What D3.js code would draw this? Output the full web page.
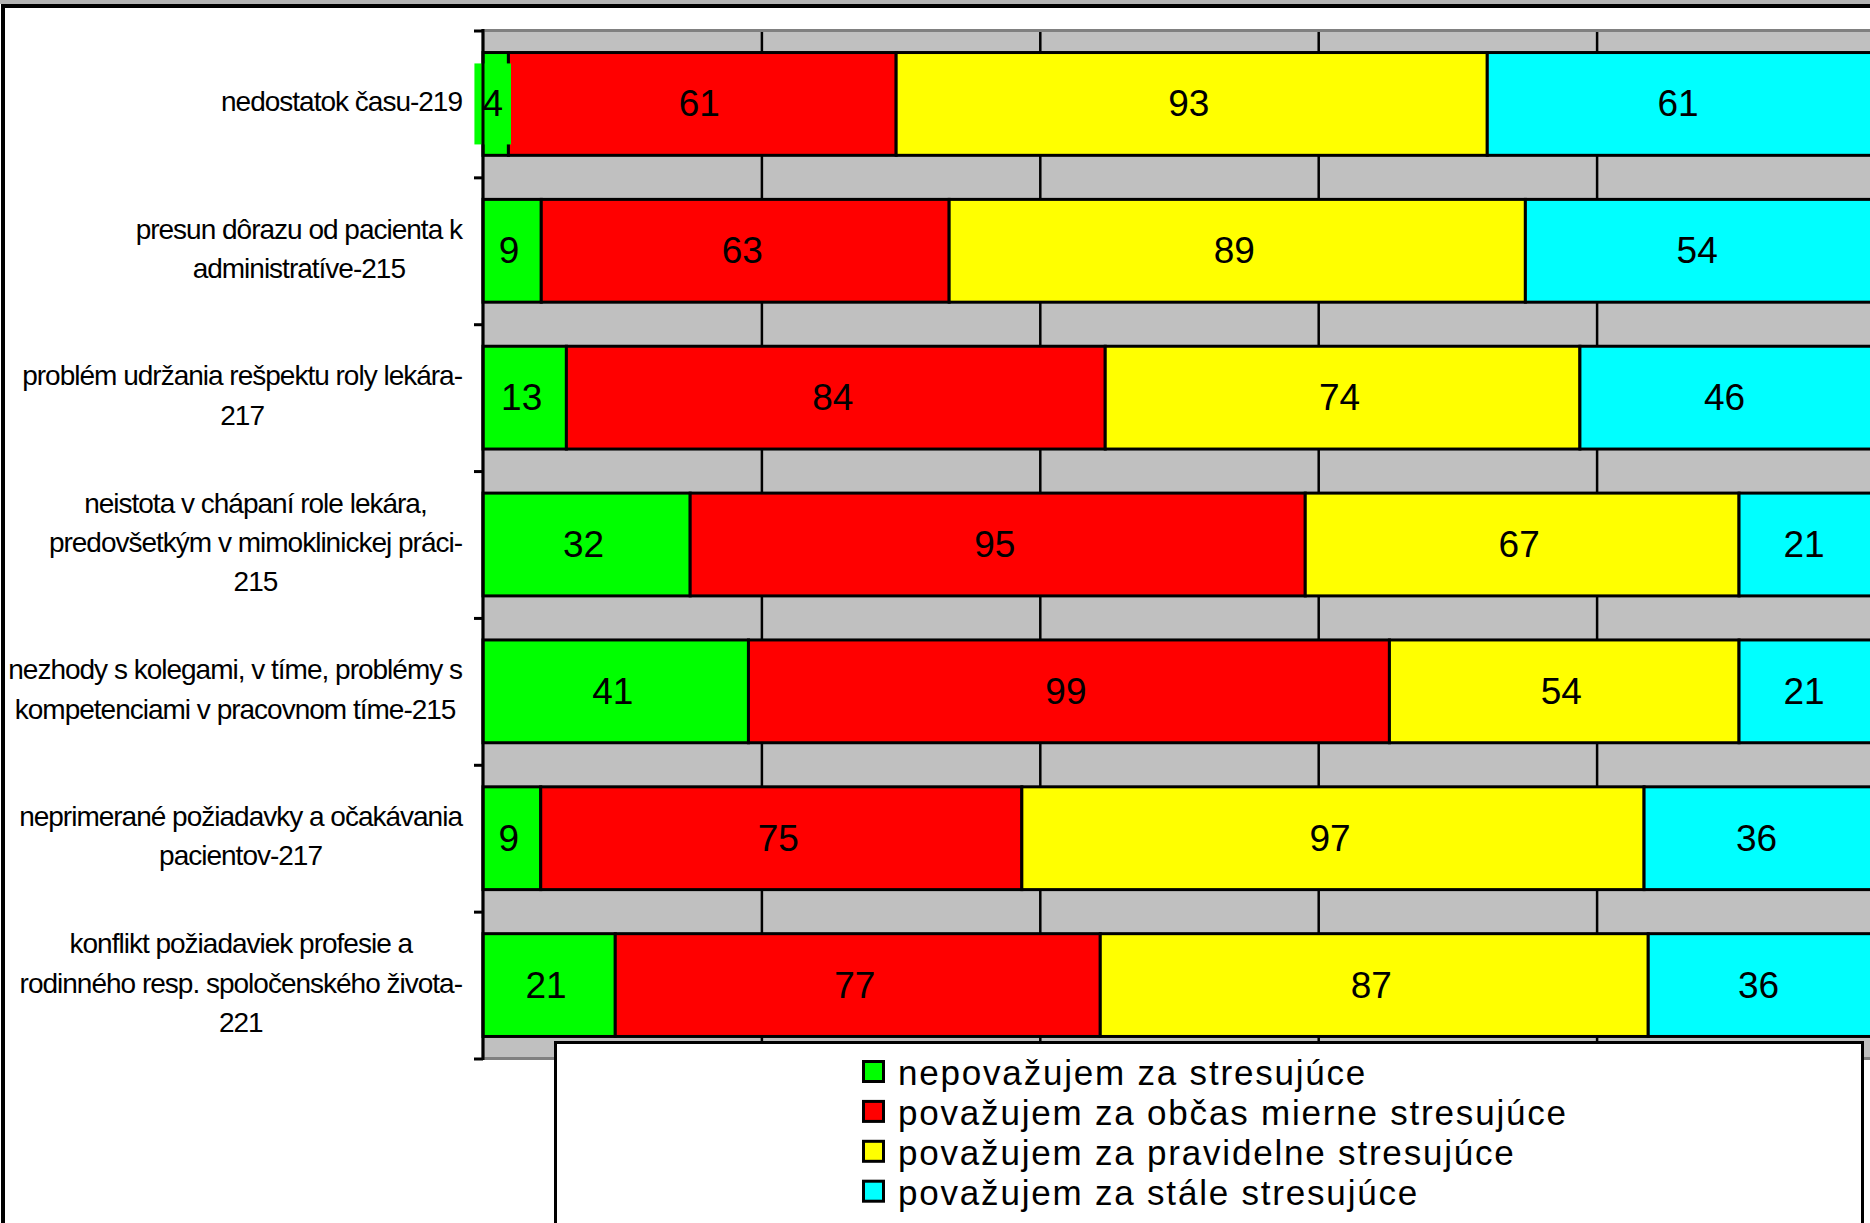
<!DOCTYPE html>
<html>
<head>
<meta charset="utf-8">
<script src="https://cdn.jsdelivr.net/npm/d3@7"></script>
<style>
  html, body { margin: 0; padding: 0; background: #fff; overflow: hidden; }
  svg { display: block; }
</style>
</head>
<body>
<svg id="chart" width="1870" height="1223"></svg>
<script>
// Survey categories (label lines as printed on the axis)
const categoryLines = [
  ["nedostatok času-219"],
  ["presun dôrazu od pacienta k", "administratíve-215"],
  ["problém udržania rešpektu roly lekára-", "217"],
  ["neistota v chápaní role lekára,", "predovšetkým v mimoklinickej práci-", "215"],
  ["nezhody s kolegami, v tíme, problémy s", "kompetenciami v pracovnom tíme-215"],
  ["neprimerané požiadavky a očakávania", "pacientov-217"],
  ["konflikt požiadaviek profesie a", "rodinného resp. spoločenského života-", "221"]
];

// Answer groups
const seriesNames = [
  "nepovažujem za stresujúce",
  "považujem za občas mierne stresujúce",
  "považujem za pravidelne stresujúce",
  "považujem za stále stresujúce"
];

// Counts of respondents per category
const notStressful = [4, 9, 13, 32, 41, 9, 21];
const occasionally = [61, 63, 84, 95, 99, 75, 77];
const regularly    = [93, 89, 74, 67, 54, 97, 87];
const constantly   = [61, 54, 46, 21, 21, 36, 36];

// Share gridlines (100 % stacked axis)
const shareTicks = [0.2, 0.4, 0.6, 0.8, 1.0];

const seriesColors = ["#00ff00", "#ff0000", "#ffff00", "#00ffff"];

const svg = d3.select("#chart");
const FONT = "'Liberation Sans', Arial, sans-serif";

const keys = ["a", "b", "c", "d"];
const rows = categoryLines.map((lines, i) => ({
  idx: i,
  a: notStressful[i],
  b: occasionally[i],
  c: regularly[i],
  d: constantly[i]
}));

const stacked = d3.stack().keys(keys).offset(d3.stackOffsetExpand)(rows);

const plot = { left: 483, right: 1875, top: 30.5, bottom: 1058.5 };

const x = d3.scaleLinear().domain([0, 1]).range([plot.left, plot.right]);
const y = d3.scaleBand()
  .domain(d3.range(rows.length))
  .range([plot.top, plot.bottom])
  .paddingInner(0.3)
  .paddingOuter(0.15);

// outer chart frame
svg.append("rect").attr("x", 0).attr("y", 0).attr("width", 1870).attr("height", 4).attr("fill", "#b3b3b3");
svg.append("rect")
  .attr("x", 3).attr("y", 6).attr("width", 2100).attr("height", 2100)
  .attr("fill", "none").attr("stroke", "#000").attr("stroke-width", 4);

// plot area
svg.append("rect")
  .attr("x", plot.left).attr("y", plot.top)
  .attr("width", plot.right - plot.left + 10).attr("height", plot.bottom - plot.top)
  .attr("fill", "#c0c0c0").attr("stroke", "#808080").attr("stroke-width", 3);

// vertical gridlines
svg.append("g")
  .attr("transform", `translate(0,${plot.top + 1.5})`)
  .call(d3.axisBottom(x).tickValues(shareTicks).tickSize(plot.bottom - plot.top - 3).tickFormat(""))
  .call(g => g.select(".domain").remove())
  .call(g => g.selectAll(".tick line").attr("stroke", "#000").attr("stroke-width", 2.5));

// stacked bars
const layer = svg.append("g").selectAll("g")
  .data(stacked)
  .join("g")
  .attr("fill", (s, i) => seriesColors[i]);

layer.selectAll("rect")
  .data(s => s)
  .join("rect")
  .attr("x", d => x(d[0]))
  .attr("y", d => y(d.data.idx))
  .attr("width", d => x(d[1]) - x(d[0]))
  .attr("height", y.bandwidth())
  .attr("stroke", "#000")
  .attr("stroke-width", 3);

// data labels with series-coloured boxes
const labelSize = 37;
stacked.forEach((s, si) => {
  const g = svg.append("g");
  s.forEach(d => {
    const cx = (x(d[0]) + x(d[1])) / 2 - 3;
    const cy = y(d.data.idx) + y.bandwidth() / 2;
    const value = d.data[s.key];
    const box = g.append("rect").attr("fill", seriesColors[si]);
    const t = g.append("text")
      .attr("x", cx).attr("y", cy + 12.5)
      .attr("text-anchor", "middle")
      .attr("font-family", FONT)
      .attr("font-size", labelSize)
      .attr("fill", "#000")
      .text(value);
    const w = t.node().getComputedTextLength() + 16;
    const h = 81;
    box.attr("x", cx - w / 2).attr("y", cy - h / 2).attr("width", w).attr("height", h);
  });
});

// category axis with ticks on band boundaries
const yEdges = d3.scaleLinear().domain([0, rows.length]).range([plot.top, plot.bottom]);
svg.append("g")
  .attr("transform", `translate(${plot.left},0)`)
  .call(d3.axisLeft(yEdges).tickValues(d3.range(rows.length + 1)).tickSize(9).tickSizeOuter(0).tickFormat(""))
  .call(g => g.select(".domain").attr("stroke", "#000").attr("stroke-width", 3)
    .attr("d", `M0,${plot.top - 1.5}V${plot.bottom + 1.5}`))
  .call(g => g.selectAll(".tick line").attr("stroke", "#000").attr("stroke-width", 3));

// category labels: block right-aligned to the axis, lines centred in it
const catSize = 28, lineGap = 39.3, labelRight = 462;
categoryLines.forEach((lines, i) => {
  const cy = y(i) + y.bandwidth() / 2 - 2;
  const g = svg.append("g");
  const texts = lines.map((line, k) => g.append("text")
    .attr("y", cy + (k - (lines.length - 1) / 2) * lineGap + 9.5)
    .attr("text-anchor", "middle")
    .attr("font-family", FONT)
    .attr("font-size", catSize)
    .attr("letter-spacing", "-1.0px")
    .attr("fill", "#000")
    .text(line));
  const maxW = d3.max(texts, t => t.node().getComputedTextLength());
  texts.forEach(t => t.attr("x", labelRight - maxW / 2));
});

// legend
const legend = svg.append("g");
legend.append("rect")
  .attr("x", 555.5).attr("y", 1042.5).attr("width", 1307).attr("height", 400)
  .attr("fill", "#fff").attr("stroke", "#000").attr("stroke-width", 3);

const legendStep = 39.9;
seriesNames.forEach((name, k) => {
  legend.append("rect")
    .attr("x", 863.5).attr("y", 1061.5 + k * legendStep)
    .attr("width", 20).attr("height", 20)
    .attr("fill", seriesColors[k]).attr("stroke", "#000").attr("stroke-width", 3);
  legend.append("text")
    .attr("x", 898).attr("y", 1085 + k * legendStep)
    .attr("font-family", FONT)
    .attr("font-size", 35)
    .attr("letter-spacing", "1.8px")
    .attr("fill", "#000")
    .text(name);
});
</script>
</body>
</html>
